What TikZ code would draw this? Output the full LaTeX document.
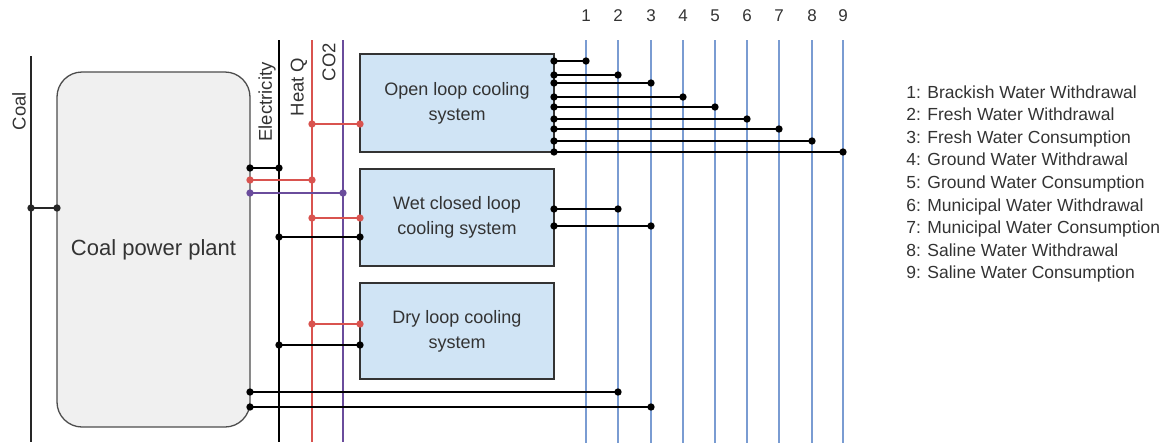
\documentclass[tikz,border=0pt]{standalone}
\usepackage{fontspec}
\setmainfont{Liberation Sans}
\usetikzlibrary{arrows.meta}
\definecolor{txt}{HTML}{333333}
\definecolor{heatred}{HTML}{D9534F}
\definecolor{copurple}{HTML}{6A4C9C}
\definecolor{waterblue}{HTML}{7A9CD2}
\definecolor{boxfill}{HTML}{D0E4F5}
\definecolor{plantfill}{HTML}{F0F0F0}
\begin{document}
\begin{tikzpicture}[x=1pt,y=-1pt,
  every node/.style={text=txt, outer sep=0pt},
  plantbox/.style={draw=black!70, fill=plantfill, line width=1.3pt, rounded corners=25pt,
    minimum width=193pt, minimum height=355pt, font=\fontsize{22}{26}\selectfont},
  coolbox/.style={draw=black!80, fill=boxfill, line width=1.4pt, minimum width=194pt,
    align=center, font=\fontsize{18}{25}\selectfont},
  carrier/.style={line width=1.7pt},
  water/.style={line width=1.6pt, draw=waterblue},
  link/.style={line width=1.8pt, shorten <=-3.6pt, shorten >=-3.6pt,
    {Circle[length=7.2pt]}-{Circle[length=7.2pt]}},
  vlabel/.style={rotate=90, font=\fontsize{18.5}{22}\selectfont},
  num/.style={font=\fontsize{17}{20}\selectfont},
  legend/.style={anchor=base west, font=\fontsize{17.5}{21}\selectfont}]
\useasboundingbox (0,0) rectangle (1163,445);

% plant and cooling systems
\node[plantbox] (plant) at (153.5,249.5) {Coal power plant};
\node[coolbox, minimum height=98pt] (open) at (457,103) {Open loop cooling\\system};
\node[coolbox, minimum height=97pt] (wet) at (457,217.5) {Wet closed loop\\cooling system};
\node[coolbox, minimum height=96pt] (dry) at (457,331) {Dry loop cooling\\system};

% carrier lines
\coordinate (coalT) at (31,56);   \coordinate (coalB) at (31,442);
\coordinate (elecT) at (279,40);  \coordinate (elecB) at (279,442);
\coordinate (heatT) at (312,40);  \coordinate (heatB) at (312,442);
\coordinate (co2T) at (343,40);   \coordinate (co2B) at (343,442);
\draw[carrier, black!85] (coalT) -- (coalB);
\draw[carrier, black] (elecT) -- (elecB);
\draw[carrier, heatred] (heatT) -- (heatB);
\draw[carrier, copurple] (co2T) -- (co2B);
\node[vlabel] (coallbl) at (19,111) {Coal};
\node[vlabel] (eleclbl) at (267,102) {Electricity};
\node[vlabel] (heatlbl) at (299,87) {Heat Q};
\node[vlabel] (co2lbl) at (329,62) {CO2};

% water flow lines
\foreach \i/\x in {1/586,2/618,3/651,4/683,5/715,6/747,7/779,8/812,9/843}{
  \coordinate (w\i T) at (\x,40);
  \coordinate (w\i B) at (\x,443);
  \draw[water] (w\i T) -- (w\i B);
  \node[num] (n\i) at (\x,16) {\i};
}

% plant connections
\draw[link, black!85] (coalT |- 0,208) -- (plant.west |- 0,208);
\draw[link, black] (plant.east |- 0,168) -- (elecT |- 0,168);
\draw[link, heatred] (plant.east |- 0,180) -- (heatT |- 0,180);
\draw[link, copurple] (plant.east |- 0,193) -- (co2T |- 0,193);
\draw[link, black] (plant.east |- 0,392) -- (w2T |- 0,392);
\draw[link, black] (plant.east |- 0,407) -- (w3T |- 0,407);

% heat and electricity to cooling systems
\draw[link, heatred] (heatT |- 0,124) -- (open.west |- 0,124);
\draw[link, heatred] (heatT |- 0,218) -- (wet.west |- 0,218);
\draw[link, black] (elecT |- 0,237) -- (wet.west |- 0,237);
\draw[link, heatred] (heatT |- 0,324) -- (dry.west |- 0,324);
\draw[link, black] (elecT |- 0,345) -- (dry.west |- 0,345);

% cooling system water flows
\foreach \i/\y in {1/61,2/75,3/83,4/97,5/107,6/119,7/129,8/141,9/152}{
  \draw[link, black] (open.east |- 0,\y) -- (w\i T |- 0,\y);
}
\draw[link, black] (wet.east |- 0,209) -- (w2T |- 0,209);
\draw[link, black] (wet.east |- 0,226) -- (w3T |- 0,226);

% legend
\foreach \i/\y/\t in {1/98/Brackish Water Withdrawal,
                      2/120.6/Fresh Water Withdrawal,
                      3/143.2/Fresh Water Consumption,
                      4/165.8/Ground Water Withdrawal,
                      5/188.4/Ground Water Consumption,
                      6/211/Municipal Water Withdrawal,
                      7/233.6/Municipal Water Consumption,
                      8/256.2/Saline Water Withdrawal,
                      9/278.8/Saline Water Consumption}{
  \node[legend] (leg\i) at (903,\y) {\i: \t};
}
\end{tikzpicture}
\end{document}
